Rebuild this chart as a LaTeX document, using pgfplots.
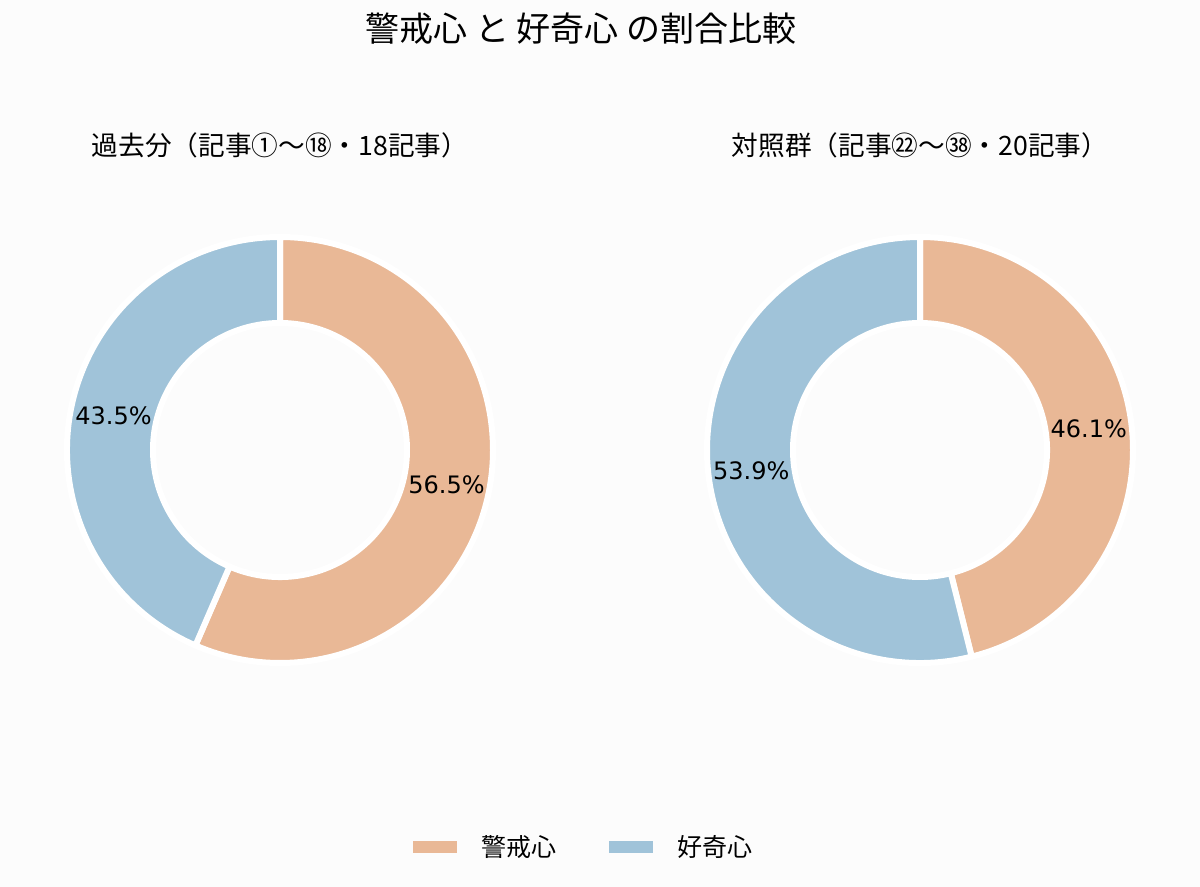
\documentclass[border=0pt]{standalone}
\usepackage{fontspec}
\setmainfont{Noto Sans CJK JP}
\newfontfamily\dejavu{DejaVu Sans}
\usepackage{pgfplots}
\pgfplotsset{compat=1.18}
\definecolor{bgc}{HTML}{FCFCFC}
\definecolor{warn}{HTML}{E9B896}
\definecolor{curi}{HTML}{A0C3D9}
% values (percent)
\def\La{56.5}\def\Lb{43.5}
\def\Ra{46.1}\def\Rb{53.9}
\pgfmathsetmacro\LaEnd{90-3.6*\La}
\pgfmathsetmacro\LaMid{90-1.8*\La}
\pgfmathsetmacro\LbEnd{\LaEnd-3.6*\Lb}
\pgfmathsetmacro\LbMid{\LaEnd-1.8*\Lb}
\pgfmathsetmacro\RaEnd{90-3.6*\Ra}
\pgfmathsetmacro\RaMid{90-1.8*\Ra}
\pgfmathsetmacro\RbEnd{\RaEnd-3.6*\Rb}
\pgfmathsetmacro\RbMid{\RaEnd-1.8*\Rb}
\newcommand\ring[5]{%
  \fill[#5, draw=white, line width=4.5pt, line join=miter]
    (axis cs:#1,#2) ++(#3:159.75pt)
    arc[start angle=#3, end angle=#4, radius=159.75pt]
    -- ++(#4+180:64.5pt)
    arc[start angle=#4, end angle=#3, radius=95.25pt] -- cycle;}
\begin{document}
\begin{tikzpicture}
\begin{axis}[
  scale only axis, width=900pt, height=665.25pt,
  xmin=0, xmax=1200, ymin=0, ymax=887, y dir=reverse,
  hide axis, clip=false]
\fill[bgc] (axis cs:0,0) rectangle (axis cs:1200,887);
% left donut
\ring{280}{450}{90}{\LaEnd}{warn}
\ring{280}{450}{\LaEnd}{\LbEnd}{curi}
% right donut
\ring{920}{450}{90}{\RaEnd}{warn}
\ring{920}{450}{\RaEnd}{\RbEnd}{curi}
% percentage labels
\path (axis cs:280,450) ++(\LaMid:127.5pt) node[font=\dejavu\fontsize{18}{20}\selectfont] {56.5\%};
\path (axis cs:280,450) ++(\LbMid:127.5pt) node[font=\dejavu\fontsize{18}{20}\selectfont] {43.5\%};
\path (axis cs:920,450) ++(\RaMid:127.5pt) node[font=\dejavu\fontsize{18}{20}\selectfont] {46.1\%};
\path (axis cs:920,450) ++(\RbMid:127.5pt) node[font=\dejavu\fontsize{18}{20}\selectfont] {53.9\%};
% titles
\node[font=\fontsize{25.5}{30}\selectfont] at (axis cs:581,29) {警戒心 と 好奇心 の割合比較};
\node[font=\fontsize{20}{24}\selectfont] at (axis cs:280,145) {過去分（記事①～⑱・18記事）};
\node[font=\fontsize{20}{24}\selectfont] at (axis cs:920,145) {対照群（記事㉒～㊳・20記事）};
% legend
\fill[warn] (axis cs:413,841) rectangle (axis cs:457,853);
\fill[curi] (axis cs:609,841) rectangle (axis cs:653,853);
\node[anchor=west, inner sep=0pt, font=\fontsize{18.75}{22}\selectfont] at (axis cs:481,847) {警戒心};
\node[anchor=west, inner sep=0pt, font=\fontsize{18.75}{22}\selectfont] at (axis cs:677,847) {好奇心};
\end{axis}
\end{tikzpicture}
\end{document}
